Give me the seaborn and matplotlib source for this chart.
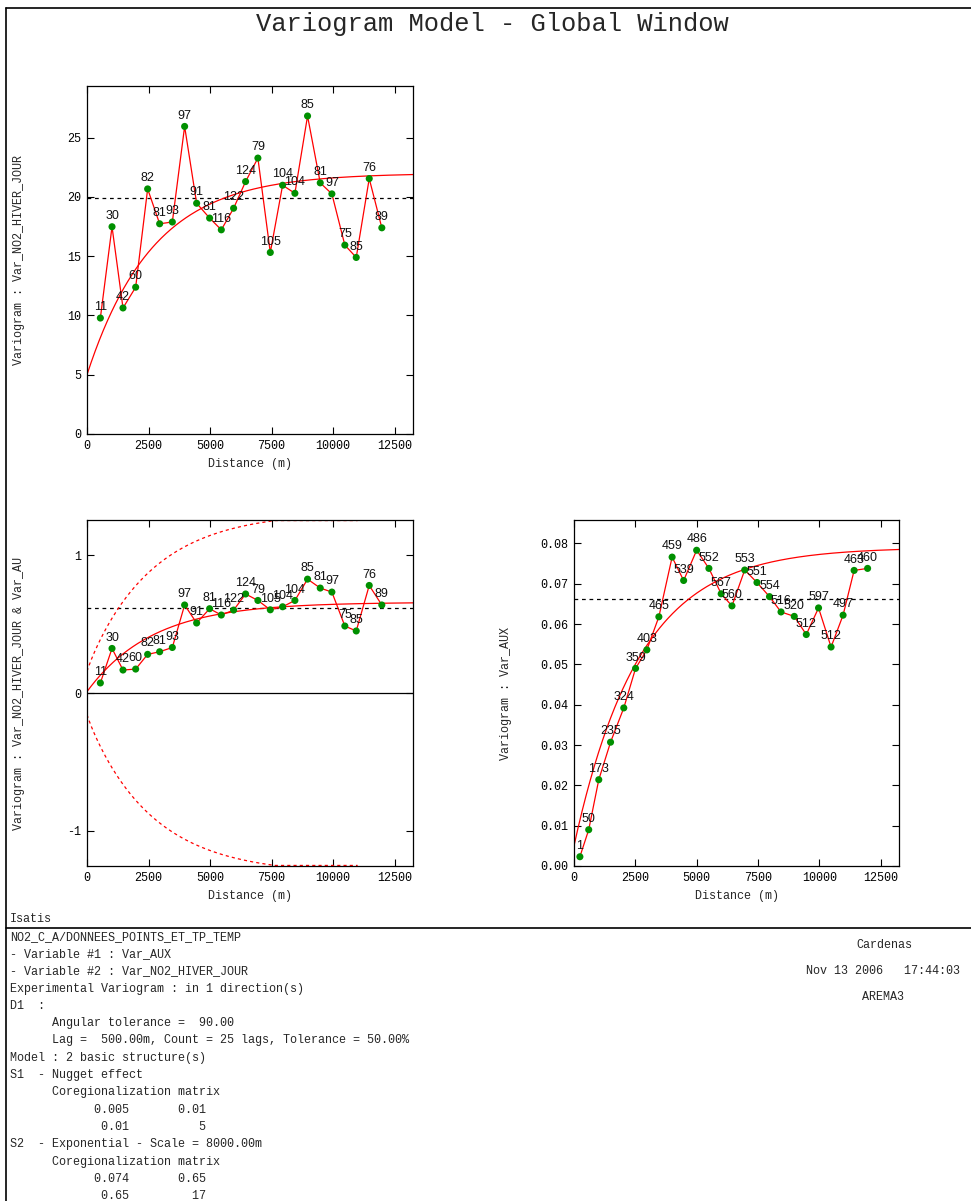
import numpy as np
import matplotlib
matplotlib.use("Agg")
import matplotlib.pyplot as plt
from matplotlib.lines import Line2D
import seaborn as sns

# ------------------------------------------
# Data
# ------------------------------------------
# lag distances (m) for the NO2 variable and the cross variogram
dist_no2 = [543, 1017, 1463, 1978, 2465, 2953, 3468, 3968, 4456, 4984, 5459, 5959,
            6446, 6946, 7450, 7950, 8450, 8964, 9480, 9953, 10480, 10943, 11471, 11983]
pairs_no2 = [11, 30, 42, 60, 82, 81, 93, 97, 91, 81, 116, 122,
             124, 79, 105, 104, 104, 85, 81, 97, 75, 85, 76, 89]
gamma_no2 = [9.78, 17.48, 10.63, 12.38, 20.67, 17.73, 17.88, 25.94, 19.46, 18.21, 17.22, 19.04,
             21.29, 23.27, 15.31, 20.98, 20.30, 26.82, 21.18, 20.25, 15.93, 14.89, 21.54, 17.39]
gamma_cross = [0.073, 0.324, 0.167, 0.174, 0.281, 0.300, 0.331, 0.640, 0.509, 0.613, 0.567, 0.603,
               0.720, 0.673, 0.605, 0.627, 0.673, 0.828, 0.763, 0.734, 0.487, 0.451, 0.782, 0.640]

# lag distances (m) for the auxiliary variable
dist_aux = [240, 600, 1010, 1490, 2030, 2510, 2970, 3460, 4000, 4470, 5000, 5500, 6000,
            6440, 6960, 7460, 7970, 8440, 8980, 9470, 9970, 10480, 10970, 11420, 11970]
pairs_aux = [1, 50, 173, 235, 324, 359, 403, 465, 459, 539, 486, 552, 567,
             560, 553, 551, 554, 516, 520, 512, 597, 512, 497, 463, 460]
gamma_aux = [0.0023, 0.0090, 0.0214, 0.0307, 0.0392, 0.0490, 0.0536, 0.0618, 0.0766, 0.0708,
             0.0783, 0.0738, 0.0675, 0.0645, 0.0734, 0.0703, 0.0668, 0.0630, 0.0619, 0.0574,
             0.0640, 0.0543, 0.0622, 0.0733, 0.0738]

# experimental variances (dotted lines)
var_no2 = 19.9
cov_cross = 0.618
var_aux = 0.0662

# model: nugget + exponential (scale 8000 m), coregionalization matrices
nugget = [[0.005, 0.01], [0.01, 5]]
sill_exp = [[0.074, 0.65], [0.65, 17]]
scale = 8000.0

xticks = [0, 2500, 5000, 7500, 10000, 12500]

text_lines = [
    "NO2_C_A/DONNEES_POINTS_ET_TP_TEMP",
    "- Variable #1 : Var_AUX",
    "- Variable #2 : Var_NO2_HIVER_JOUR",
    "Experimental Variogram : in 1 direction(s)",
    "D1  :",
    "      Angular tolerance =  90.00",
    "      Lag =  500.00m, Count = 25 lags, Tolerance = 50.00%",
    "Model : 2 basic structure(s)",
    "S1  - Nugget effect",
    "      Coregionalization matrix",
    "{:>17}{:>11}".format("0.005", "0.01"),
    "{:>17}{:>11}".format("0.01", "5"),
    "S2  - Exponential - Scale = 8000.00m",
    "      Coregionalization matrix",
    "{:>17}{:>11}".format("0.074", "0.65"),
    "{:>17}{:>11}".format("0.65", "17"),
]

# ------------------------------------------
# Style
# ------------------------------------------
sns.set_style("ticks")
MONO = ["Liberation Mono", "DejaVu Sans Mono"]
SANS = ["Liberation Sans", "DejaVu Sans"]
plt.rcParams["font.family"] = MONO
plt.rcParams["axes.unicode_minus"] = False

W, H = 971, 1201
fig = plt.figure(figsize=(W / 100, H / 100), dpi=100)
fig.patch.set_facecolor("white")


def box(x0, y0, x1, y1):
    # pixel box -> figure fraction rect
    return [x0 / W, 1 - y1 / H, (x1 - x0) / W, (y1 - y0) / H]


def model(h, i, j):
    h = np.asarray(h, dtype=float)
    return nugget[i][j] + sill_exp[i][j] * (1 - np.exp(-3 * h / scale))


XMAX = 13250


def draw_panel(ax, dist, gam, counts, var_line, ylim, yticks, ylabel, mi, mj, yfmt=None):
    sns.lineplot(x=dist, y=gam, ax=ax, color="red", lw=0.9, sort=False,
                 estimator=None, zorder=2)
    sns.scatterplot(x=dist, y=gam, ax=ax, color="#009000", s=26, edgecolor="none",
                    zorder=4)
    hh = np.linspace(0, XMAX, 400)
    sns.lineplot(x=hh, y=model(hh, mi, mj), ax=ax, color="red", lw=0.9, zorder=2)
    ax.axhline(var_line, color="black", lw=0.9, ls=(0, (3, 3)), zorder=1)
    for x, y, c in zip(dist, gam, counts):
        ax.annotate(str(c), (x, y), xytext=(0, 3.5), textcoords="offset points",
                    ha="center", va="bottom", fontsize=9, family=SANS,
                    color="#111111", zorder=5)
    ax.set_xlim(0, XMAX)
    ax.set_ylim(*ylim)
    ax.set_xticks(xticks)
    ax.set_yticks(yticks)
    if yfmt:
        ax.set_yticklabels([yfmt.format(v) for v in yticks])
    ax.tick_params(direction="in", top=True, right=True, length=5, width=0.8,
                   labelsize=8.5, pad=4, colors="black")
    for s in ax.spines.values():
        s.set_visible(True)
        s.set_linewidth(0.9)
        s.set_color("black")
    ax.set_xlabel("Distance (m)", fontsize=8.5, labelpad=5)
    ax.set_ylabel(ylabel, fontsize=8.5)
    ax.yaxis.set_label_coords(-0.19, 0.5)


# top panel: NO2 variogram
ax1 = fig.add_axes(box(87, 86, 413, 434))
draw_panel(ax1, dist_no2, gamma_no2, pairs_no2, var_no2, (0, 29.35),
           [0, 5, 10, 15, 20, 25], "Variogram : Var_NO2_HIVER_JOUR", 1, 1)

# bottom-left: cross variogram with +/- bounds
ax2 = fig.add_axes(box(87, 520, 413, 866))
ylim2 = 1.258
draw_panel(ax2, dist_no2, gamma_cross, pairs_no2, cov_cross, (-ylim2, ylim2),
           [-1, 0, 1], "Variogram : Var_NO2_HIVER_JOUR & Var_AU", 0, 1)
he = np.linspace(0, 11000, 300)
env = np.sqrt(model(he, 0, 0) * model(he, 1, 1))
env = np.clip(env, 0, ylim2 - 0.004)
sns.lineplot(x=he, y=env, ax=ax2, color="red", lw=0.9, ls=(0, (2.5, 2.5)), zorder=2)
sns.lineplot(x=he, y=-env, ax=ax2, color="red", lw=0.9, ls=(0, (2.5, 2.5)), zorder=2)
ax2.axhline(0, color="black", lw=0.9, zorder=1)

# bottom-right: auxiliary variable
ax3 = fig.add_axes(box(574, 520, 899, 866))
draw_panel(ax3, dist_aux, gamma_aux, pairs_aux, var_aux, (0, 0.0858),
           [0, 0.01, 0.02, 0.03, 0.04, 0.05, 0.06, 0.07, 0.08], "Variogram : Var_AUX", 0, 0,
           yfmt="{:.2f}")

# ------------------------------------------
# Title, frame and report text
# ------------------------------------------
fig.text(492 / W, 1 - 24 / H, "Variogram Model - Global Window", ha="center",
         va="center", fontsize=18.4, family=MONO)

frame_kw = dict(color="black", lw=1.2, transform=fig.transFigure)
fig.add_artist(Line2D([6 / W, 1], [1 - 7.7 / H, 1 - 7.7 / H], **frame_kw))
fig.add_artist(Line2D([6 / W, 6 / W], [0, 1 - 7.7 / H], **frame_kw))
fig.add_artist(Line2D([6 / W, 1], [1 - 928.3 / H, 1 - 928.3 / H], **frame_kw))

fig.text(10 / W, 1 - 919 / H, "Isatis", ha="left", va="center", fontsize=8.5, family=MONO)
for k, line in enumerate(text_lines):
    y = 936.7 + k * 17.3
    fig.text(10 / W, 1 - y / H, line, ha="left", va="center", fontsize=8.5, family=MONO)

fig.text(884 / W, 1 - 945 / H, "Cardenas", ha="center", va="center", fontsize=8.5, family=MONO)
fig.text(882.5 / W, 1 - 971 / H, "Nov 13 2006   17:44:03", ha="center", va="center",
         fontsize=8.5, family=MONO)
fig.text(883 / W, 1 - 997 / H, "AREMA3", ha="center", va="center", fontsize=8.5, family=MONO)

fig.savefig("out.png", dpi=100)
print("Saved out.png")
